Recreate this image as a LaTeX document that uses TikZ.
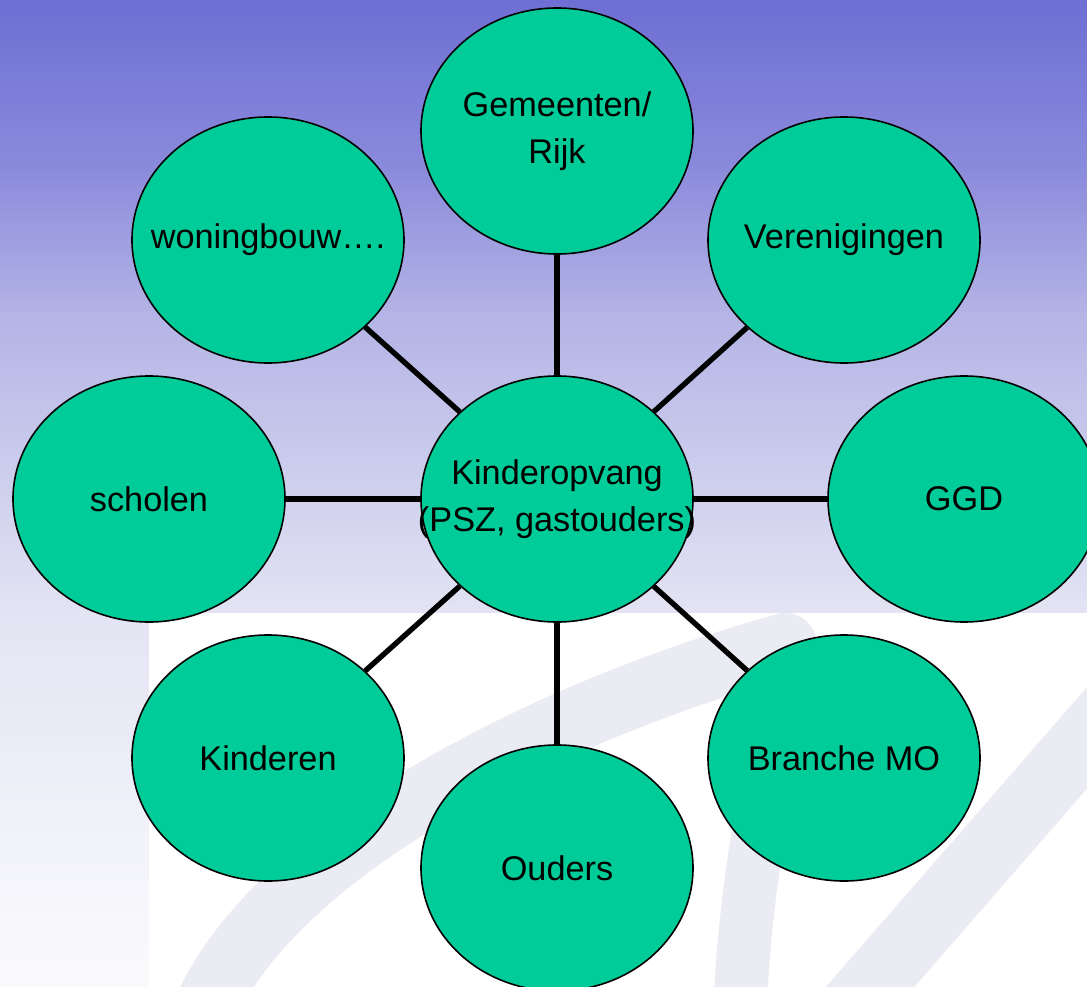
\documentclass[tikz,border=0pt]{standalone}
\usepackage{fontspec}
\setmainfont{Liberation Sans}
\usetikzlibrary{shapes.geometric}
\definecolor{bgA}{RGB}{110,110,212}
\definecolor{bgB}{RGB}{138,138,220}
\definecolor{bgC}{RGB}{180,180,230}
\definecolor{bgD}{RGB}{228,228,244}
\definecolor{bgE}{RGB}{250,250,253}
\definecolor{nodefill}{RGB}{0,204,153}
\definecolor{wmark}{RGB}{235,235,243}
\pgfdeclareverticalshading{bgshade}{100bp}{color(0bp)=(bgE); color(25bp)=(bgE); color(26bp)=(bgE); color(43.8bp)=(bgD); color(59bp)=(bgC); color(66.6bp)=(bgB); color(75bp)=(bgA); color(100bp)=(bgA)}
\newcommand{\zw}[1]{\makebox[0pt]{#1}}
\tikzset{
  bubble/.style={ellipse, draw=black, line width=1.2pt, fill=nodefill,
    minimum width=204pt, minimum height=184.5pt, inner sep=0pt, align=center,
    font=\fontsize{25.7}{35}\selectfont},
  link/.style={line width=4pt, black},
  wm/.style={wmark, line cap=round}
}
\begin{document}
\begin{tikzpicture}[x=0.75pt,y=-0.75pt]
\useasboundingbox (0,0) rectangle (1087,987);
\shade[shading=bgshade] (0,0) rectangle (1087,987);
\fill[white] (149,613) rectangle (1087,987);
\begin{scope}
\clip (149,613) rectangle (1087,987);
\draw[wm, line width=48pt] (205,1010) .. controls (270,860) and (520,720) .. (785,645);
\draw[wm, line width=40pt] (795,655) .. controls (770,760) and (745,880) .. (740,1010);
\draw[wm, line width=50pt] (1120,700) -- (850,1010);
\end{scope}
\node[bubble] (c) at (557,499) {\zw{Kinderopvang}\\\zw{(PSZ, gastouders)}};
\node[bubble] (g) at (557,131) {\zw{Gemeenten/}\\\zw{Rijk}};
\node[bubble] (w) at (268,240) {\zw{woningbouw….}};
\node[bubble] (v) at (844,240) {\zw{Verenigingen}};
\node[bubble] (s) at (149,499) {\zw{scholen}};
\node[bubble] (d) at (964,499) {\zw{GGD}};
\node[bubble] (k) at (268,758) {\zw{Kinderen}};
\node[bubble] (b) at (844,758) {\zw{Branche MO}};
\node[bubble] (o) at (557,868) {\zw{Ouders}};
\foreach \n in {g,w,v,s,d,k,b,o} {\draw[link] (c) -- (\n);}
\end{tikzpicture}
\end{document}
